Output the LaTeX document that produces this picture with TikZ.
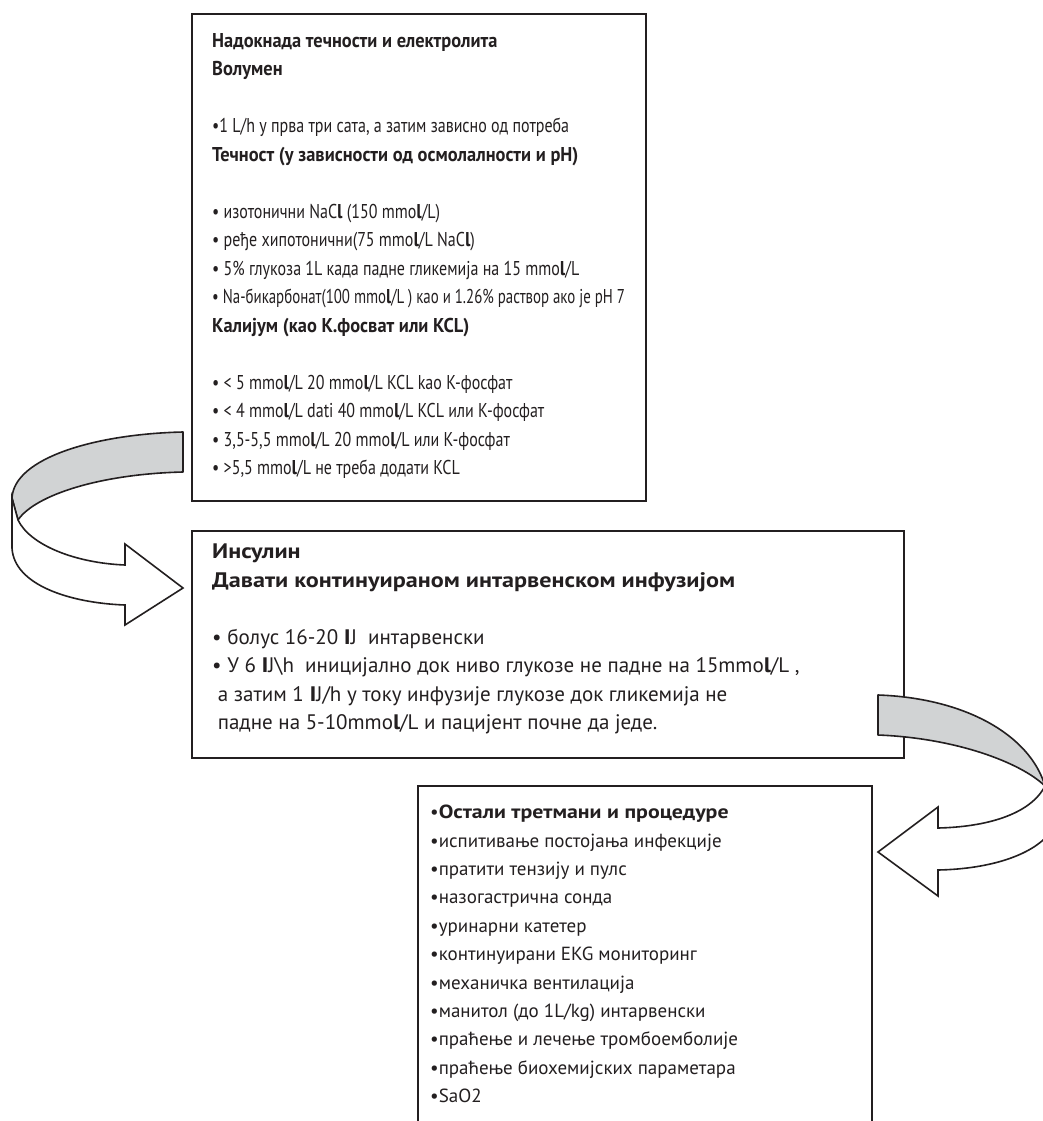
\documentclass[tikz,border=0pt]{standalone}
\usepackage{fontspec}
\setmainfont{PT Sans}[BoldFeatures={FakeStretch=1.15}]
\usetikzlibrary{calc}
\newcommand\Bl{\textbf{l}}
\newcommand\BI{\textbf{I}}
\definecolor{ink}{HTML}{231F20}
\definecolor{bandgray}{HTML}{D1D3D4}
\begin{document}
\begin{tikzpicture}[x=1pt,y=-1pt,
  txt/.style={anchor=north west, inner sep=0pt, align=left, text=ink,
    font=\fontsize{20}{28.5}\selectfont},
  boxline/.style={draw=ink, line width=1.8pt, inner sep=0pt, anchor=north west},
  band/.style={draw=ink, line width=1.6pt, fill=bandgray, line join=round},
  face/.style={draw=ink, line width=1.6pt, fill=white, line join=miter}]
\useasboundingbox (0,0) rectangle (1043,1121);
\fill[white] (0,0) rectangle (1043,1121);
\clip (0,0) rectangle (1043,1121);

% ---------- boxes ----------
\node[boxline, minimum width=454pt, minimum height=487pt] (b1) at (191,13) {};
\node[boxline, minimum width=712pt, minimum height=227pt] (b2) at (191,530) {};
\node[boxline, minimum width=454pt, minimum height=420pt] (b3) at (417,785) {};

% ---------- texts ----------
\node[anchor=north west, inner sep=0pt, text=ink] (t1) at (212,27)
{\scalebox{0.8}[1]{\fontsize{20}{28.5}\selectfont
\begin{tabular}{@{}l@{}}
\textbf{Надокнада течности и електролита}\\
\textbf{Волумен}\\
\\
•1 L/h у прва три сата, а затим зависно од потреба\\
\textbf{Течност (у зависности од осмолалности и pH)}\\
\\
• изотонични NaC\Bl{} (150 mmo\Bl/L)\\
• ређе хипотонични(75 mmo\Bl/L NaC\Bl)\\
• 5\% глукоза 1L када падне гликемија на 15 mmo\Bl/L\\
\resizebox{0.93\width}{\height}{• Na-бикарбонат(100 mmo\Bl/L ) као и 1.26\% раствор ако је pH 7}\\
\textbf{Калијум (као К.фосват или KCL)}\\
\\
• < 5 mmo\Bl/L 20 mmo\Bl/L KCL kao К-фосфат\\
• < 4 mmo\Bl/L dati 40 mmo\Bl/L KCL или К-фосфат\\
• 3,5-5,5 mmo\Bl/L 20 mmo\Bl/L или К-фосфат\\
• >5,5 mmo\Bl/L не треба додати KCL
\end{tabular}}};

\node[txt, font=\fontsize{21}{28.5}\selectfont] (t2) at (212,544) {\textbf{Инсулин}\\
\textbf{Давати континуираном интарвенском инфузијом}\\[28.5pt]
• болус 16-20 \BI J\ \ интарвенски\\
• У 6 \BI J\textbackslash h\ \ иницијално док ниво глукозе не падне на 15mmo\Bl/L ,\\
\ а затим 1 \BI J/h у току инфузије глукозе док гликемија не\\
\ падне на 5-10mmo\Bl/L и пацијент почне да једе.};

\node[txt, font=\fontsize{19}{28.4}\selectfont] (t3) at (430,805) {•\textbf{Остали третмани и процедуре}\\
•испитивање постојања инфекције\\
•пратити тензију и пулс\\
•назогастрична сонда\\
•уринарни катетер\\
•континуирани EKG мониторинг\\
•механичка вентилација\\
•манитол (до 1L/kg) интарвенски\\
•праћење и лечење тромбоемболије\\
•праћење биохемијских параметара\\
•SaO2};

% ---------- left ribbon arrow (box 1 -> box 2) ----------
\draw[band] (183,432) .. controls (95,434) and (14,458) .. (12,498)
  -- (18,520) .. controls (35,495) and (100,474) .. (183,472) -- cycle;
\draw[face] (12,498) -- (12,548) .. controls (14,585) and (70,603) .. (125,605)
  -- (125,625) -- (183,588) -- (125,544) -- (125,565)
  .. controls (75,563) and (30,545) .. (18,520) -- cycle;

% ---------- right ribbon arrow (box 2 -> box 3) ----------
\draw[band] (878,695) .. controls (965,698) and (1030,735) .. (1045,786)
  .. controls (1020,762) and (955,738) .. (878,735) -- cycle;
\draw[face] (1045,786) .. controls (1030,815) and (985,827) .. (938,828)
  -- (938,807) -- (878,852) -- (938,896) -- (938,870)
  .. controls (990,869) and (1035,855) .. (1052,830) -- (1052,786) -- cycle;
\end{tikzpicture}
\end{document}
